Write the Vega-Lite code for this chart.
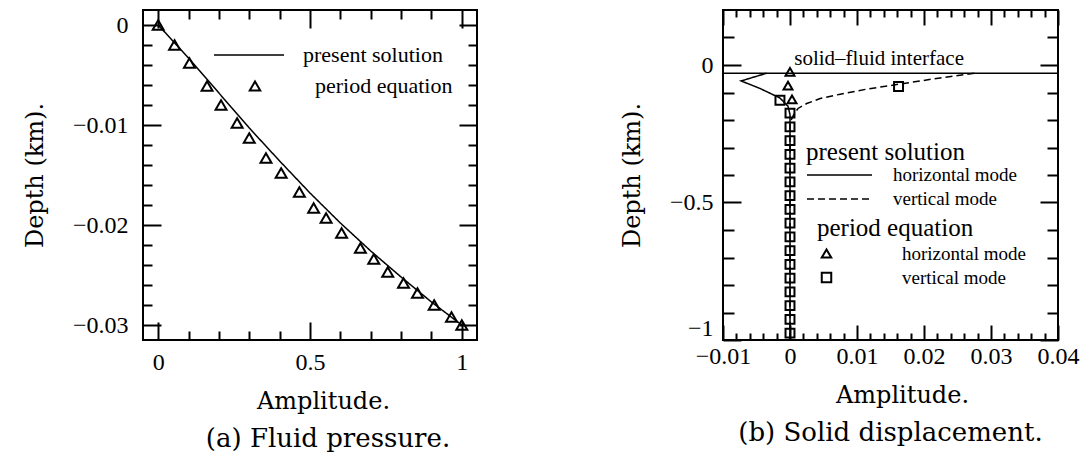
{
  "$schema": "https://vega.github.io/schema/vega-lite/v6.json",
  "padding": {"left": 22, "top": 8, "right": 2, "bottom": 5},
  "config": {
    "view": {"stroke": "black", "strokeWidth": 2},
    "axis": {"domain": false, "grid": false, "tickColor": "black", "tickWidth": 2, "labelColor": "black", "titleColor": "black", "labelFont": "Liberation Serif", "labelFontSize": 24, "titleFont": "DejaVu Serif", "titleFontSize": 24, "titleFontWeight": "normal", "labelFlush": false, "labelOverlap": false},
    "legend": {"labelFont": "Liberation Serif", "labelColor": "black", "titleFont": "Liberation Serif", "titleColor": "black", "titleFontWeight": "normal", "padding": 0, "symbolStrokeColor": "black", "labelLimit": 400, "titleLimit": 400}
  },
  "datasets": {
    "a_line": [
      {"series": "present solution", "amplitude": 0, "depth": 0},
      {"series": "present solution", "amplitude": 0.1, "depth": -0.0033},
      {"series": "present solution", "amplitude": 0.2, "depth": -0.0068},
      {"series": "present solution", "amplitude": 0.3, "depth": -0.0103},
      {"series": "present solution", "amplitude": 0.4, "depth": -0.0136},
      {"series": "present solution", "amplitude": 0.5, "depth": -0.0168},
      {"series": "present solution", "amplitude": 0.6, "depth": -0.0198},
      {"series": "present solution", "amplitude": 0.7, "depth": -0.0226},
      {"series": "present solution", "amplitude": 0.8, "depth": -0.0252},
      {"series": "present solution", "amplitude": 0.9, "depth": -0.0277},
      {"series": "present solution", "amplitude": 1.0, "depth": -0.03}
    ],
    "a_pts": [
      {"series": "period equation", "amplitude": 0, "depth": 0},
      {"series": "period equation", "amplitude": 0.054, "depth": -0.002},
      {"series": "period equation", "amplitude": 0.103, "depth": -0.0038},
      {"series": "period equation", "amplitude": 0.161, "depth": -0.0061},
      {"series": "period equation", "amplitude": 0.207, "depth": -0.008},
      {"series": "period equation", "amplitude": 0.26, "depth": -0.0098},
      {"series": "period equation", "amplitude": 0.3, "depth": -0.0113},
      {"series": "period equation", "amplitude": 0.355, "depth": -0.0133},
      {"series": "period equation", "amplitude": 0.405, "depth": -0.0148},
      {"series": "period equation", "amplitude": 0.465, "depth": -0.0167},
      {"series": "period equation", "amplitude": 0.512, "depth": -0.0183},
      {"series": "period equation", "amplitude": 0.553, "depth": -0.0193},
      {"series": "period equation", "amplitude": 0.604, "depth": -0.0208},
      {"series": "period equation", "amplitude": 0.666, "depth": -0.0223},
      {"series": "period equation", "amplitude": 0.71, "depth": -0.0234},
      {"series": "period equation", "amplitude": 0.756, "depth": -0.0247},
      {"series": "period equation", "amplitude": 0.808, "depth": -0.0258},
      {"series": "period equation", "amplitude": 0.854, "depth": -0.0268},
      {"series": "period equation", "amplitude": 0.909, "depth": -0.028},
      {"series": "period equation", "amplitude": 0.966, "depth": -0.0292},
      {"series": "period equation", "amplitude": 1.0, "depth": -0.03}
    ],
    "b_line": [
      {"mode": "horizontal mode", "amplitude": -0.0035, "depth": -0.03},
      {"mode": "horizontal mode", "amplitude": -0.0073, "depth": -0.058},
      {"mode": "horizontal mode", "amplitude": -0.0045, "depth": -0.085},
      {"mode": "horizontal mode", "amplitude": -0.0015, "depth": -0.12},
      {"mode": "horizontal mode", "amplitude": -0.0003, "depth": -0.15},
      {"mode": "horizontal mode", "amplitude": 0, "depth": -0.18},
      {"mode": "horizontal mode", "amplitude": 0, "depth": -1.0},
      {"mode": "vertical mode", "amplitude": 0.0275, "depth": -0.03},
      {"mode": "vertical mode", "amplitude": 0.0224, "depth": -0.047},
      {"mode": "vertical mode", "amplitude": 0.0162, "depth": -0.07},
      {"mode": "vertical mode", "amplitude": 0.0114, "depth": -0.088},
      {"mode": "vertical mode", "amplitude": 0.0075, "depth": -0.106},
      {"mode": "vertical mode", "amplitude": 0.0045, "depth": -0.122},
      {"mode": "vertical mode", "amplitude": 0.0025, "depth": -0.14},
      {"mode": "vertical mode", "amplitude": 0.0012, "depth": -0.158},
      {"mode": "vertical mode", "amplitude": 0.0006, "depth": -0.178},
      {"mode": "vertical mode", "amplitude": 0, "depth": -0.21},
      {"mode": "vertical mode", "amplitude": 0, "depth": -1.0}
    ],
    "b_pts": [
      {"mode": "horizontal", "amplitude": 0, "depth": -0.025},
      {"mode": "horizontal", "amplitude": -0.0003, "depth": -0.075},
      {"mode": "horizontal", "amplitude": 0.0003, "depth": -0.125},
      {"mode": "vertical", "amplitude": 0.0162, "depth": -0.078},
      {"mode": "vertical", "amplitude": -0.0015, "depth": -0.128},
      {"mode": "vertical", "amplitude": 0, "depth": -0.175},
      {"mode": "vertical", "amplitude": 0, "depth": -0.225},
      {"mode": "vertical", "amplitude": 0, "depth": -0.275},
      {"mode": "vertical", "amplitude": 0, "depth": -0.325},
      {"mode": "vertical", "amplitude": 0, "depth": -0.375},
      {"mode": "vertical", "amplitude": 0, "depth": -0.425},
      {"mode": "vertical", "amplitude": 0, "depth": -0.475},
      {"mode": "vertical", "amplitude": 0, "depth": -0.525},
      {"mode": "vertical", "amplitude": 0, "depth": -0.575},
      {"mode": "vertical", "amplitude": 0, "depth": -0.625},
      {"mode": "vertical", "amplitude": 0, "depth": -0.675},
      {"mode": "vertical", "amplitude": 0, "depth": -0.725},
      {"mode": "vertical", "amplitude": 0, "depth": -0.775},
      {"mode": "vertical", "amplitude": 0, "depth": -0.825},
      {"mode": "vertical", "amplitude": 0, "depth": -0.875},
      {"mode": "vertical", "amplitude": 0, "depth": -0.925},
      {"mode": "vertical", "amplitude": 0, "depth": -0.975}
    ],
    "b_interface": [
      {"label": "solid–fluid interface", "amplitude": 0.0133, "depth": -0.03, "labelDepth": 0.022}
    ]
  },
  "hconcat": [
    {
      "width": 334,
      "height": 330,
      "title": {"text": "(a) Fluid pressure.", "orient": "bottom", "font": "DejaVu Serif", "fontSize": 26, "fontWeight": "normal", "color": "black", "offset": 13, "dx": 18},
      "layer": [
        {
          "data": {"name": "a_line"},
          "mark": {"type": "line", "color": "black", "strokeWidth": 1.5},
          "encoding": {
            "x": {"field": "amplitude", "type": "quantitative", "scale": {"domain": [-0.05, 1.05], "nice": false, "zero": false},
              "axis": {"orient": "bottom", "values": [0, 0.5, 1], "format": ".1~f", "tickSize": -18, "labelPadding": 28, "title": "Amplitude.", "titlePadding": 15, "titleX": 180}},
            "y": {"field": "depth", "type": "quantitative", "scale": {"domain": [-0.0315, 0.0015], "nice": false, "zero": false},
              "axis": {"orient": "left", "values": [0, -0.01, -0.02, -0.03], "format": ".2~f", "tickSize": -18, "labelPadding": 33, "title": "Depth (km).", "titlePadding": 25}},
            "strokeDash": {"field": "series", "type": "nominal", "scale": {"domain": ["present solution"], "range": [[1, 0]]},
              "legend": {"orient": "none", "legendX": 70, "legendY": 34, "title": null, "symbolSize": 4900, "clipHeight": 22, "symbolStrokeWidth": 1.5, "labelOffset": 18, "labelFontSize": 22}},
            "order": {"field": "depth", "sort": "descending"}
          }
        },
        {
          "data": {"name": "a_pts"},
          "mark": {"type": "point", "filled": false, "color": "black", "strokeWidth": 2, "size": 120, "opacity": 1},
          "encoding": {
            "x": {"field": "amplitude", "type": "quantitative", "scale": {"domain": [-0.05, 1.05], "nice": false, "zero": false},
              "axis": {"orient": "bottom", "values": [0.1, 0.2, 0.3, 0.4, 0.6, 0.7, 0.8, 0.9], "tickSize": -9, "labels": false, "title": null}},
            "y": {"field": "depth", "type": "quantitative", "scale": {"domain": [-0.0315, 0.0015], "nice": false, "zero": false},
              "axis": {"orient": "left", "values": [-0.002, -0.004, -0.006, -0.008, -0.012, -0.014, -0.016, -0.018, -0.022, -0.024, -0.026, -0.028], "tickSize": -9, "labels": false, "title": null}},
            "shape": {"field": "series", "type": "nominal", "scale": {"domain": ["period equation"], "range": ["triangle-up"]},
              "legend": {"orient": "none", "legendX": 101, "legendY": 65, "title": null, "symbolSize": 110, "symbolStrokeWidth": 2, "labelOffset": 49, "labelFontSize": 22}}
          }
        },
        {
          "data": {"name": "a_pts"},
          "mark": {"type": "point", "opacity": 0},
          "encoding": {
            "x": {"field": "amplitude", "type": "quantitative", "scale": {"domain": [-0.05, 1.05], "nice": false, "zero": false},
              "axis": {"orient": "top", "values": [0, 0.5, 1], "tickSize": -18, "labels": false, "title": null}},
            "y": {"field": "depth", "type": "quantitative", "scale": {"domain": [-0.0315, 0.0015], "nice": false, "zero": false},
              "axis": {"orient": "right", "values": [0, -0.01, -0.02, -0.03], "tickSize": -18, "labels": false, "title": null}}
          }
        },
        {
          "data": {"name": "a_pts"},
          "mark": {"type": "point", "opacity": 0},
          "encoding": {
            "x": {"field": "amplitude", "type": "quantitative", "scale": {"domain": [-0.05, 1.05], "nice": false, "zero": false},
              "axis": {"orient": "top", "values": [0.1, 0.2, 0.3, 0.4, 0.6, 0.7, 0.8, 0.9], "tickSize": -9, "labels": false, "title": null}},
            "y": {"field": "depth", "type": "quantitative", "scale": {"domain": [-0.0315, 0.0015], "nice": false, "zero": false},
              "axis": {"orient": "right", "values": [-0.002, -0.004, -0.006, -0.008, -0.012, -0.014, -0.016, -0.018, -0.022, -0.024, -0.026, -0.028], "tickSize": -9, "labels": false, "title": null}}
          }
        }
      ],
      "resolve": {"axis": {"x": "independent", "y": "independent"}}
    },
    {
      "width": 335,
      "height": 330,
      "title": {"text": "(b) Solid displacement.", "orient": "bottom", "font": "DejaVu Serif", "fontSize": 26, "fontWeight": "normal", "color": "black", "offset": 13},
      "layer": [
        {
          "data": {"name": "b_line"},
          "mark": {"type": "line", "color": "black", "strokeWidth": 1.5},
          "encoding": {
            "x": {"field": "amplitude", "type": "quantitative", "scale": {"domain": [-0.01, 0.04], "nice": false, "zero": false},
              "axis": {"orient": "bottom", "values": [-0.01, 0, 0.01, 0.02, 0.03, 0.04], "format": ".2~f", "tickSize": -15, "labelPadding": 19, "title": "Amplitude.", "titlePadding": 15, "titleX": 179}},
            "y": {"field": "depth", "type": "quantitative", "scale": {"domain": [-1, 0.2], "nice": false, "zero": false},
              "axis": {"orient": "left", "values": [0, -0.5, -1], "format": ".1~f", "tickSize": -18, "labelPadding": 28, "labelFlush": true, "title": "Depth (km).", "titlePadding": 25}},
            "strokeDash": {"field": "mode", "type": "nominal", "scale": {"domain": ["horizontal mode", "vertical mode"], "range": [[1, 0], [7, 4]]},
              "legend": {"orient": "none", "legendX": 83, "legendY": 130, "title": "present solution", "titleFontSize": 25, "titlePadding": 0, "symbolSize": 4225, "clipHeight": 20, "symbolStrokeWidth": 1.5, "labelOffset": 20, "labelFontSize": 19, "rowPadding": 4}},
            "order": {"field": "depth", "sort": "descending"}
          }
        },
        {
          "data": {"name": "b_pts"},
          "mark": {"type": "point", "filled": false, "color": "black", "strokeWidth": 2, "size": 80, "opacity": 1},
          "encoding": {
            "x": {"field": "amplitude", "type": "quantitative", "scale": {"domain": [-0.01, 0.04], "nice": false, "zero": false},
              "axis": {"orient": "bottom", "values": [-0.008, -0.006, -0.004, -0.002, 0.002, 0.004, 0.006, 0.008, 0.012, 0.014, 0.016, 0.018, 0.022, 0.024, 0.026, 0.028, 0.032, 0.034, 0.036, 0.038], "tickSize": -7, "labels": false, "title": null}},
            "y": {"field": "depth", "type": "quantitative", "scale": {"domain": [-1, 0.2], "nice": false, "zero": false},
              "axis": {"orient": "left", "values": [0.1, -0.1, -0.2, -0.3, -0.4, -0.6, -0.7, -0.8, -0.9], "tickSize": -11, "labels": false, "title": null}},
            "shape": {"field": "mode", "type": "nominal", "scale": {"domain": ["horizontal", "vertical"], "range": ["triangle-up", "square"]},
              "legend": {"orient": "none", "legendX": 94, "legendY": 206, "title": "period equation", "titleFontSize": 25, "titlePadding": 3, "symbolSize": 90, "symbolStrokeWidth": 2, "labelOffset": 66, "labelFontSize": 19, "rowPadding": 4, "labelExpr": "datum.label + ' mode'"}}
          }
        },
        {
          "data": {"name": "b_pts"},
          "mark": {"type": "point", "opacity": 0},
          "encoding": {
            "x": {"field": "amplitude", "type": "quantitative", "scale": {"domain": [-0.01, 0.04], "nice": false, "zero": false},
              "axis": {"orient": "top", "values": [-0.01, 0, 0.01, 0.02, 0.03, 0.04], "tickSize": -15, "labels": false, "title": null}},
            "y": {"field": "depth", "type": "quantitative", "scale": {"domain": [-1, 0.2], "nice": false, "zero": false},
              "axis": {"orient": "right", "values": [0, -0.5, -1], "tickSize": -18, "labels": false, "title": null}}
          }
        },
        {
          "data": {"name": "b_pts"},
          "mark": {"type": "point", "opacity": 0},
          "encoding": {
            "x": {"field": "amplitude", "type": "quantitative", "scale": {"domain": [-0.01, 0.04], "nice": false, "zero": false},
              "axis": {"orient": "top", "values": [-0.008, -0.006, -0.004, -0.002, 0.002, 0.004, 0.006, 0.008, 0.012, 0.014, 0.016, 0.018, 0.022, 0.024, 0.026, 0.028, 0.032, 0.034, 0.036, 0.038], "tickSize": -7, "labels": false, "title": null}},
            "y": {"field": "depth", "type": "quantitative", "scale": {"domain": [-1, 0.2], "nice": false, "zero": false},
              "axis": {"orient": "right", "values": [0.1, -0.1, -0.2, -0.3, -0.4, -0.6, -0.7, -0.8, -0.9], "tickSize": -11, "labels": false, "title": null}}
          }
        },
        {
          "data": {"name": "b_interface"},
          "mark": {"type": "rule", "color": "black", "strokeWidth": 1.5},
          "encoding": {
            "y": {"field": "depth", "type": "quantitative", "scale": {"domain": [-1, 0.2], "nice": false, "zero": false}, "axis": null}
          }
        },
        {
          "data": {"name": "b_interface"},
          "mark": {"type": "text", "font": "Liberation Serif", "fontSize": 21, "color": "black", "align": "center", "baseline": "middle"},
          "encoding": {
            "x": {"field": "amplitude", "type": "quantitative", "scale": {"domain": [-0.01, 0.04], "nice": false, "zero": false}, "axis": null},
            "y": {"field": "labelDepth", "type": "quantitative", "scale": {"domain": [-1, 0.2], "nice": false, "zero": false}, "axis": null},
            "text": {"field": "label"}
          }
        }
      ],
      "resolve": {"axis": {"x": "independent", "y": "independent"}}
    }
  ],
  "spacing": 140,
  "resolve": {
    "scale": {"x": "independent", "y": "independent", "strokeDash": "independent", "shape": "independent"},
    "legend": {"strokeDash": "independent", "shape": "independent"}
  }
}
